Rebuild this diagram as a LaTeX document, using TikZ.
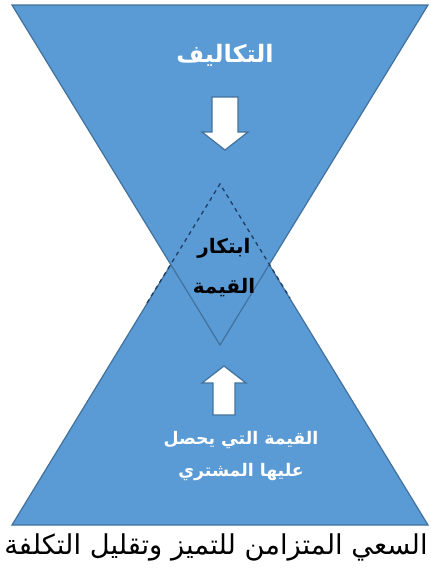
\documentclass[tikz,border=0pt]{standalone}
\usepackage{fontspec}
\newfontfamily\arabicfont[Script=Arabic]{DejaVu Sans}
\TeXXeTstate=1
\definecolor{fillblue}{HTML}{5B9BD5}
\definecolor{edgeblue}{HTML}{41719C}
\definecolor{dashblue}{HTML}{1F3F66}
\begin{document}
\begin{tikzpicture}[x=0.75pt,y=-0.75pt,
  tri/.style={fill=fillblue,draw=edgeblue,line width=0.9pt},
  blockarrow/.style={fill=white,draw=edgeblue,line width=0.9pt},
  wlbl/.style={font=\arabicfont\bfseries,text=white,align=center,inner sep=0pt},
  blbl/.style={font=\arabicfont\bfseries\fontsize{15}{18}\selectfont,text=black,inner sep=0pt},
  caption/.style={font=\arabicfont\fontsize{20.5}{24}\selectfont,text=black,inner sep=0pt}]
\useasboundingbox (0,0) rectangle (430,575);
\fill[white] (0,0) rectangle (430,575);
% bottom triangle
\draw[tri] (12,525) -- (428,525) -- (220,184) -- cycle;
% top triangle
\draw[tri] (12,5) -- (428,5) -- (220,345) -- cycle;
% dashed inner triangle edges
\draw[dashblue,dashed,line width=1pt] (147,303) -- (220,184) -- (290,298);
% down arrow
\draw[blockarrow] (212,97) -- (238,97) -- (238,132) -- (248,132) -- (225,150) -- (202,132) -- (212,132) -- cycle;
% up arrow
\draw[blockarrow] (213,415) -- (213,383) -- (202,383) -- (224,366) -- (246,383) -- (235,383) -- (235,415) -- cycle;
% labels
\node[wlbl,font=\arabicfont\bfseries\fontsize{18}{22}\selectfont] (cost) at (225,55) {\beginR التكاليف\endR};
\node[blbl] (inno1) at (224,248) {\beginR ابتكار\endR};
\node[blbl] (inno2) at (224,288) {\beginR القيمة\endR};
\node[wlbl,font=\arabicfont\bfseries\fontsize{13}{24}\selectfont] (value) at (241,456) {\beginR القيمة التي يحصل\endR\\\beginR عليها المشتري\endR};
\node[caption] (cap) at (216,547) {\beginR السعي المتزامن للتميز وتقليل التكلفة\endR};
\end{tikzpicture}
\end{document}
